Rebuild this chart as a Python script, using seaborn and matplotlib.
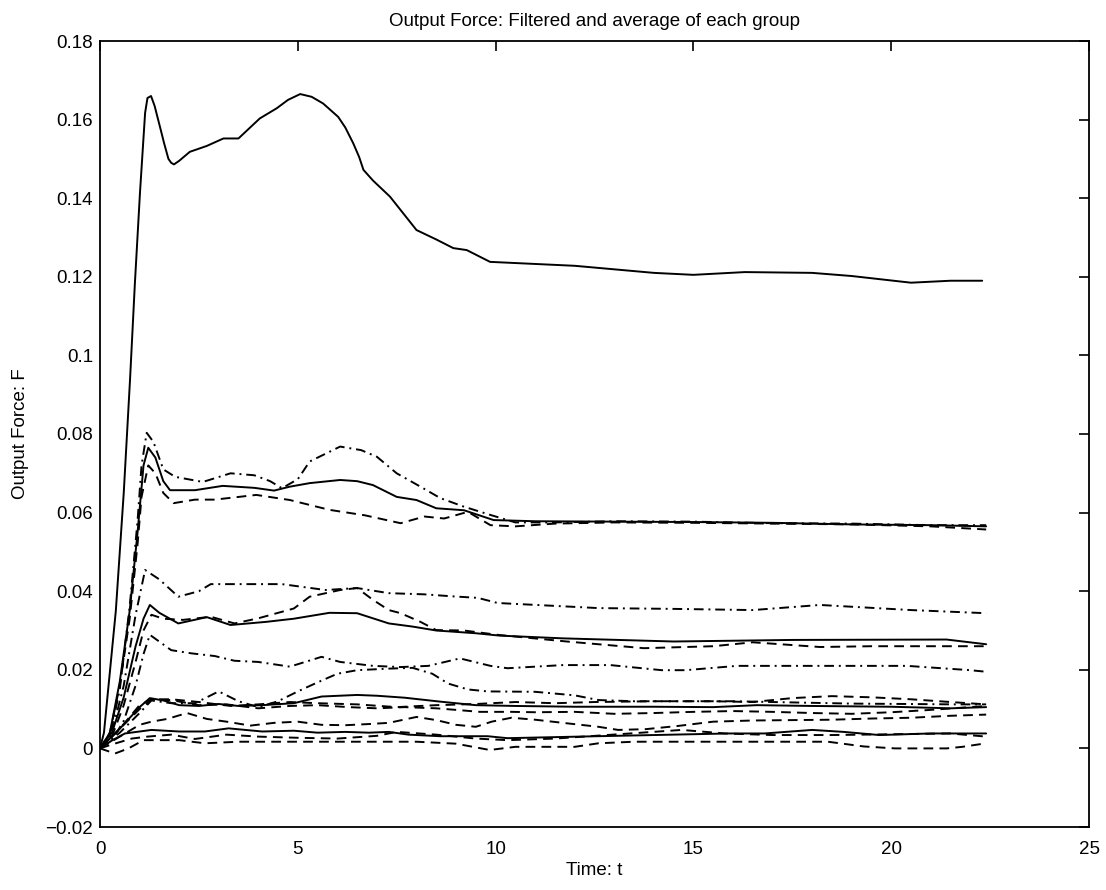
import numpy as np
import pandas as pd
import matplotlib
matplotlib.use("Agg")
import matplotlib.pyplot as plt
import seaborn as sns

# ---------------- data ----------------
# Group A (single, solid)
a_t = [0, 0.1, 0.4, 0.6, 0.76, 0.88, 1.01, 1.14, 1.2, 1.29, 1.38, 1.52, 1.62, 1.73, 1.8, 1.87, 2.0, 2.27, 2.7,
       3.12, 3.5, 4.04, 4.47, 4.75, 5.06, 5.35, 5.64, 6.02, 6.2, 6.4, 6.55, 6.66, 6.9, 7.33, 8.0, 8.5, 8.93, 9.27,
       9.86, 10.5, 12, 14, 15, 16.3, 18, 19, 20.5, 21.5, 22.3]
a_f = [0, 0.004, 0.035, 0.065, 0.094, 0.118, 0.1413, 0.1617, 0.1655, 0.166, 0.1635, 0.158, 0.154, 0.150,
       0.149, 0.1486, 0.1495, 0.1518, 0.1533, 0.1552, 0.1552, 0.1603, 0.1629, 0.165, 0.1665, 0.1658, 0.1641,
       0.1607, 0.158, 0.154, 0.1505, 0.1472, 0.1445, 0.1404, 0.1319, 0.1295, 0.1273, 0.1268, 0.1238, 0.1235,
       0.1228, 0.121, 0.1205, 0.1212, 0.121, 0.1202, 0.1185, 0.119, 0.119]

# Group B
b_avg_t = [0, 0.25, 0.5, 0.75, 0.95, 1.1, 1.22, 1.4, 1.6, 1.77, 2.4, 3.1, 3.9, 4.4, 4.8, 5.3, 6.07, 6.5, 6.9, 7.5,
           8.0, 8.5, 9.2, 9.95, 11, 13, 15, 17, 19, 21, 22.4]
b_avg_f = [0, 0.004, 0.017, 0.035, 0.055, 0.072, 0.0765, 0.074, 0.068, 0.0657, 0.0657, 0.0668, 0.0663, 0.0656,
           0.0666, 0.0675, 0.0683, 0.068, 0.067, 0.064, 0.0632, 0.0611, 0.0606, 0.0581, 0.0578, 0.0577, 0.0576,
           0.0574, 0.057, 0.0568, 0.0565]
b1_t = [0, 0.25, 0.5, 0.75, 0.95, 1.05, 1.18, 1.35, 1.6, 1.9, 2.6, 3.3, 3.9, 4.3, 4.6, 5.0, 5.3, 6.07, 6.6, 7.0,
        7.5, 8.1, 8.6, 9.2, 9.87, 10.5, 11.5, 13, 15, 17, 19, 21, 22.4]
b1_f = [0, 0.003, 0.015, 0.036, 0.058, 0.072, 0.0803, 0.078, 0.071, 0.0691, 0.0678, 0.0700, 0.0695, 0.068,
        0.0662, 0.0685, 0.073, 0.0768, 0.0759, 0.0742, 0.070, 0.0666, 0.0637, 0.0615, 0.0594, 0.0575, 0.0575,
        0.0578, 0.0577, 0.0573, 0.0572, 0.0568, 0.0568]
b2_t = [0, 0.25, 0.5, 0.75, 0.95, 1.05, 1.22, 1.4, 1.6, 1.86, 2.4, 2.9, 3.95, 4.8, 5.8, 6.7, 7.6, 8.2, 8.7, 9.3,
        9.87, 10.5, 11.5, 13, 15, 17, 19, 21, 22.4]
b2_f = [0, 0.004, 0.016, 0.033, 0.052, 0.064, 0.072, 0.070, 0.065, 0.0624, 0.0633, 0.0633, 0.0645, 0.0632,
        0.0607, 0.0593, 0.0573, 0.059, 0.0585, 0.0602, 0.0568, 0.0565, 0.0572, 0.0575, 0.0574, 0.0572, 0.057,
        0.0565, 0.0557]

# Group C
c_avg_t = [0, 0.3, 0.6, 0.9, 1.1, 1.26, 1.5, 1.98, 2.7, 3.3, 4.2, 4.9, 5.8, 6.5, 7.3, 7.9, 8.5, 9.5, 10.1, 11.7,
           14.5, 17.5, 21.4, 22.4]
c_avg_f = [0, 0.004, 0.013, 0.026, 0.033, 0.0365, 0.0345, 0.0318, 0.0334, 0.0314, 0.0322, 0.033, 0.0345, 0.0344,
           0.0318, 0.031, 0.030, 0.0293, 0.0287, 0.028, 0.0272, 0.0276, 0.0277, 0.0265]
c1_t = [0, 0.3, 0.6, 0.9, 1.14, 1.5, 1.98, 2.5, 2.8, 3.6, 4.6, 5.7, 6.5, 7.3, 8.2, 8.9, 9.55, 10.05, 12.6, 14.5,
        16.5, 18.2, 20.5, 22.4]
c1_f = [0, 0.004, 0.016, 0.034, 0.0454, 0.043, 0.0386, 0.040, 0.0418, 0.0418, 0.0418, 0.0403, 0.0408, 0.0395,
        0.0392, 0.0387, 0.0383, 0.037, 0.0357, 0.0355, 0.0352, 0.0365, 0.0352, 0.0344]
c2_t = [0, 0.3, 0.6, 0.9, 1.1, 1.3, 1.6, 2.1, 2.8, 3.4, 4.0, 4.9, 5.3, 6.07, 6.5, 6.9, 7.3, 7.6, 8.1, 8.5, 9.2,
        10.05, 11.8, 13.75, 15.5, 16.5, 18.2, 19.5, 22.4]
c2_f = [0, 0.003, 0.011, 0.022, 0.030, 0.034, 0.033, 0.0327, 0.0335, 0.0318, 0.0331, 0.0356, 0.0386, 0.0403,
        0.0408, 0.0378, 0.0352, 0.0344, 0.0322, 0.0301, 0.030, 0.0289, 0.0272, 0.0255, 0.026, 0.027, 0.0258,
        0.026, 0.026]
c3_t = [0, 0.3, 0.6, 0.9, 1.1, 1.26, 1.8, 2.3, 2.9, 3.4, 4.0, 4.8, 5.6, 6.07, 6.9, 7.6, 8.3, 9.1, 9.87, 10.3,
        11.7, 12.9, 14.2, 14.8, 16.1, 17, 20.4, 22.0, 22.4]
c3_f = [0, 0.002, 0.007, 0.016, 0.024, 0.0289, 0.025, 0.0242, 0.0235, 0.0223, 0.022, 0.0208, 0.0233, 0.022,
        0.021, 0.0207, 0.021, 0.0229, 0.021, 0.0204, 0.0212, 0.0212, 0.0199, 0.0199, 0.021, 0.021, 0.021,
        0.0199, 0.0195]

# Group D
d_avg_t = [0, 0.5, 1.0, 1.26, 1.6, 2.0, 2.5, 3.0, 3.5, 4.1, 4.9, 5.6, 6.5, 7.0, 7.7, 8.6, 9.5, 10.5, 12, 14,
           15.5, 16.6, 18, 20, 21.5, 22.4]
d_avg_f = [0, 0.005, 0.0105, 0.0128, 0.0122, 0.011, 0.0108, 0.0113, 0.0108, 0.011, 0.0115, 0.0132, 0.0136,
           0.0134, 0.0129, 0.0119, 0.011, 0.0108, 0.0106, 0.0106, 0.0105, 0.011, 0.0108, 0.0106, 0.0102, 0.0105]
d1_t = [0, 0.5, 1.0, 1.3, 1.8, 2.4, 3.0, 3.5, 4.0, 4.5, 5.0, 5.5, 6.0, 6.5, 7.3, 7.9, 8.4, 8.8, 9.3, 9.8, 11.0,
        12.0, 12.6, 13.5, 16, 17, 18, 19, 20.4, 21.6, 22.4]
d1_f = [0, 0.004, 0.009, 0.0122, 0.0115, 0.0115, 0.0145, 0.012, 0.0105, 0.012, 0.0145, 0.0168, 0.019, 0.0199,
        0.0203, 0.0205, 0.019, 0.0165, 0.015, 0.0145, 0.0144, 0.0135, 0.0123, 0.012, 0.012, 0.0118, 0.0116,
        0.0114, 0.0113, 0.0112, 0.0112]
d2_t = [0, 0.5, 1.0, 1.3, 1.8, 2.5, 3.2, 4.0, 4.8, 5.5, 6.3, 7.0, 7.7, 8.5, 9.0, 9.6, 10.4, 11, 12, 13, 14, 15,
        16, 17, 18, 19, 20, 21, 22.4]
d2_f = [0, 0.005, 0.010, 0.0123, 0.0123, 0.011, 0.0112, 0.0102, 0.0108, 0.011, 0.0105, 0.0102, 0.0105, 0.0102,
        0.0098, 0.0093, 0.0093, 0.0092, 0.0093, 0.0088, 0.009, 0.0093, 0.0095, 0.0093, 0.009, 0.0088, 0.0092,
        0.0098, 0.0108]
d3_t = [0, 0.5, 1.0, 1.3, 1.7, 2.2, 2.7, 3.2, 3.8, 4.4, 5.0, 5.6, 6.2, 6.8, 7.3, 8.0, 8.5, 9.0, 9.5, 9.9, 10.4,
        11, 11.7, 12.6, 13.1, 13.8, 14.6, 15.5, 16.5, 17.5, 18.5, 19.5, 20.5, 21.5, 22.4]
d3_f = [0, 0.003, 0.006, 0.0068, 0.0075, 0.009, 0.0075, 0.0068, 0.0058, 0.0065, 0.0068, 0.006, 0.0059, 0.0062,
        0.0065, 0.008, 0.0072, 0.006, 0.0055, 0.0068, 0.0078, 0.0073, 0.0065, 0.0055, 0.0047, 0.0049, 0.0057,
        0.0068, 0.0071, 0.0072, 0.0073, 0.0076, 0.0078, 0.0083, 0.0086]
d4_t = [0, 0.5, 1.0, 1.3, 1.8, 2.5, 3.3, 4.0, 4.8, 5.5, 6.5, 7.5, 8.5, 9.5, 10.5, 11.5, 12.5, 14, 15.5, 16.5,
        17.5, 18.5, 19.5, 20.5, 21.5, 22.4]
d4_f = [0, 0.005, 0.011, 0.0125, 0.0125, 0.0118, 0.0108, 0.0112, 0.0118, 0.0115, 0.0112, 0.0105, 0.011, 0.0113,
        0.0118, 0.0115, 0.0118, 0.012, 0.012, 0.0118, 0.0128, 0.0133, 0.013, 0.0125, 0.0118, 0.0112]

# Group E
e_avg_t = [0, 0.3, 0.63, 1.3, 2.0, 2.65, 3.25, 4.1, 4.9, 5.5, 6.2, 6.8, 7.3, 7.8, 8.6, 9.8, 10.3, 12.1, 14,
           15.9, 16.8, 18.0, 18.8, 19.7, 21, 22.4]
e_avg_f = [0, 0.002, 0.0038, 0.0047, 0.0043, 0.0043, 0.0051, 0.0043, 0.0045, 0.004, 0.0042, 0.004, 0.0042,
           0.0035, 0.0031, 0.0031, 0.0026, 0.003, 0.0034, 0.0038, 0.0038, 0.0047, 0.0042, 0.0034, 0.0038, 0.0038]
e1_t = [0, 0.3, 0.8, 1.2, 1.8, 2.4, 3.2, 4.0, 5.0, 6.0, 7.0, 7.5, 8.5, 9.5, 10.3, 11.5, 13.4, 14.7, 15.8, 17,
        18.5, 20, 21.5, 22.4]
e1_f = [0, 0.001, 0.0025, 0.003, 0.0035, 0.0024, 0.0035, 0.003, 0.0027, 0.0025, 0.0032, 0.0042, 0.0035, 0.0025,
        0.0021, 0.0025, 0.0038, 0.0047, 0.0038, 0.0034, 0.0034, 0.0036, 0.0038, 0.003]
e2_t = [0, 0.38, 0.72, 1.1, 2.0, 2.65, 3.5, 4.9, 6.5, 8.0, 9.0, 9.85, 10.5, 12.0, 12.6, 13.5, 15.9, 18.4, 19.3,
        20.1, 21.4, 21.8, 22.4]
e2_f = [0, -0.0013, 0.0, 0.0021, 0.0021, 0.0013, 0.0017, 0.0017, 0.0017, 0.0017, 0.0012, -0.0004, 0.0004,
        0.0004, 0.0013, 0.0017, 0.0017, 0.0017, 0.0005, 0.0, 0.0, 0.0004, 0.0013]

x_ticks = [0, 5, 10, 15, 20, 25]
y_ticks = [-0.02, 0, 0.02, 0.04, 0.06, 0.08, 0.1, 0.12, 0.14, 0.16, 0.18]
y_tick_labels = ["\u22120.02", "0", "0.02", "0.04", "0.06", "0.08", "0.1", "0.12", "0.14", "0.16", "0.18"]

# ---------------- styling ----------------
sns.set_theme(style="white")
plt.rcParams["font.family"] = ["Liberation Sans", "DejaVu Sans"]

SOLID = "-"
DASH = (0, (5, 3.2))
DASHDOT = (0, (5, 2.5, 1, 2.5))

lines = [
    (a_t, a_f, SOLID),
    (b_avg_t, b_avg_f, SOLID), (b1_t, b1_f, DASHDOT), (b2_t, b2_f, DASH),
    (c_avg_t, c_avg_f, SOLID), (c1_t, c1_f, DASHDOT), (c2_t, c2_f, DASH), (c3_t, c3_f, DASHDOT),
    (d_avg_t, d_avg_f, SOLID), (d1_t, d1_f, DASHDOT), (d2_t, d2_f, DASH), (d3_t, d3_f, DASH), (d4_t, d4_f, DASH),
    (e_avg_t, e_avg_f, SOLID), (e1_t, e1_f, DASH), (e2_t, e2_f, DASH),
]

fig = plt.figure(figsize=(11.06, 8.90), dpi=100)
ax = fig.add_axes([100 / 1106, 1 - 827 / 890, (1089 - 100) / 1106, (827 - 41) / 890])

for t, f, ls in lines:
    df = pd.DataFrame({"t": t, "F": f})
    sns.lineplot(data=df, x="t", y="F", ax=ax, color="black", linewidth=1.4,
                 linestyle=ls, sort=False, estimator=None)

ax.set_xlim(0, 25)
ax.set_ylim(-0.02, 0.18)
ax.set_xticks(x_ticks)
ax.set_xticklabels([str(v) for v in x_ticks])
ax.set_yticks(y_ticks)
ax.set_yticklabels(y_tick_labels)

for sp in ax.spines.values():
    sp.set_visible(True)
    sp.set_color("black")
    sp.set_linewidth(1.3)

FS = 13.5
ax.tick_params(direction="in", length=7, width=1.2, top=True, right=True,
               labelsize=FS, colors="black")
ax.tick_params(axis="x", pad=10)
ax.tick_params(axis="y", pad=5)

ax.set_xlabel("Time: t", fontsize=FS, color="black", labelpad=3)
ax.set_ylabel("Output Force: F", fontsize=FS, color="black", labelpad=12)
ax.set_title("Output Force: Filtered and average of each group", fontsize=FS, color="black", pad=11)

fig.savefig("out.png", dpi=100, facecolor="white")
